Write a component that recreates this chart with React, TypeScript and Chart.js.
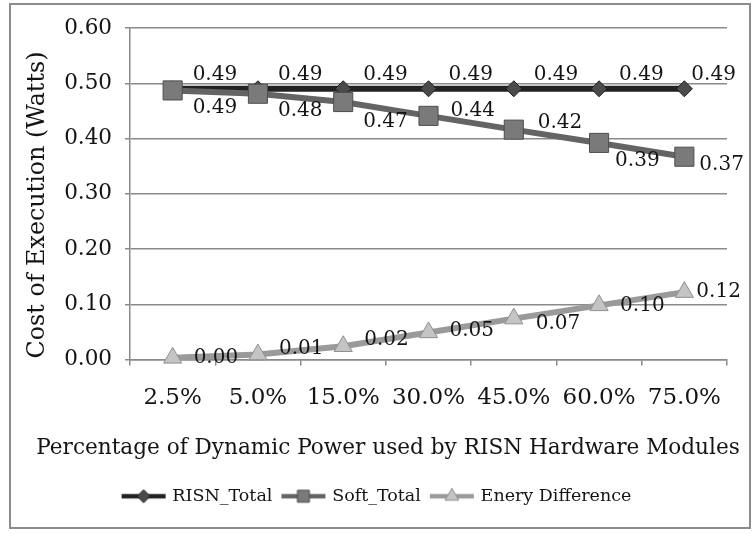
import React, { useEffect, useRef } from "react";
import { Chart, registerables } from "chart.js";
import { drawPoint } from "chart.js/helpers";
import type { ChartConfiguration, Plugin } from "chart.js";

Chart.register(...registerables);

const CATEGORIES = ["2.5%", "5.0%", "15.0%", "30.0%", "45.0%", "60.0%", "75.0%"];
const RISN_TOTAL = [0.49, 0.49, 0.49, 0.49, 0.49, 0.49, 0.49];
const SOFT_TOTAL = [0.487, 0.481, 0.466, 0.441, 0.416, 0.392, 0.367];
const ENERGY_DIFF = [0.003, 0.009, 0.024, 0.049, 0.074, 0.098, 0.122];
const SERIES_NAMES = ["RISN_Total", "Soft_Total", "Enery Difference"];
const X_TITLE = "Percentage of Dynamic Power used by RISN Hardware Modules";
const Y_TITLE = "Cost of Execution (Watts)";

const FONT = "'DejaVu Serif', 'Liberation Serif', serif";
const TEXT = "#141414";
const GRID = "#8a8a8a";

const SERIES_STYLE = [
    { line: "#222222", fill: "#4a4a4a", border: "#1e1e1e", marker: "rectRot", radius: 8, legendRadius: 6.5 },
    { line: "#646464", fill: "#7a7a7a", border: "#4e4e4e", marker: "rect", radius: 13.5, legendRadius: 8.5 },
    { line: "#9a9a9a", fill: "#c4c4c4", border: "#909090", marker: "triangle", radius: 10.5, legendRadius: 8 },
];

// value label nudges (dx, dy from the point), the way the spreadsheet placed them
const LABEL_DX = [
    [20, 20, 20, 20, 20, 20, 7],
    [20, 20, 20, 22, 24, 16, 15],
    [21, 21, 21, 21, 22, 21, 12],
];
const LABEL_DY = [
    [-14, -14, -14, -14, -14, -14, -14],
    [17, 17, 20, -5, -7, 18, 8],
    [0, -6, -6, -2, 5, 0, 0],
];

const legendImage = (index: number) => {
    const style = SERIES_STYLE[index];
    const canvas = document.createElement("canvas");
    canvas.width = 46;
    canvas.height = 18;
    const ctx = canvas.getContext("2d")!;
    ctx.strokeStyle = style.line;
    ctx.lineWidth = 4.5;
    ctx.beginPath();
    ctx.moveTo(1, 9);
    ctx.lineTo(45, 9);
    ctx.stroke();
    ctx.fillStyle = style.fill;
    ctx.strokeStyle = style.border;
    ctx.lineWidth = 1;
    drawPoint(ctx, { pointStyle: style.marker as any, radius: style.legendRadius, rotation: 0, borderWidth: 1 } as any, 23, 9);
    return canvas;
};

const valueLabels: Plugin = {
    id: "valueLabels",
    afterDatasetsDraw(chart) {
        const ctx = chart.ctx;
        ctx.save();
        ctx.fillStyle = TEXT;
        ctx.font = `20px ${FONT}`;
        ctx.textAlign = "left";
        ctx.textBaseline = "middle";
        chart.data.datasets.forEach((dataset, di) => {
            const meta = chart.getDatasetMeta(di);
            meta.data.forEach((point: any, i) => {
                const value = Number(dataset.data[i]);
                ctx.fillText(value.toFixed(2), point.x + LABEL_DX[di][i], point.y + LABEL_DY[di][i]);
            });
        });
        ctx.restore();
    },
};

// axis titles are centred on the whole frame, not on the plot, so draw them here
const axisTitles: Plugin = {
    id: "axisTitles",
    afterDraw(chart) {
        const ctx = chart.ctx;
        ctx.save();
        ctx.fillStyle = TEXT;
        ctx.textAlign = "center";
        ctx.textBaseline = "middle";
        ctx.font = `21.6px ${FONT}`;
        ctx.fillText(X_TITLE, 388, 448);
        ctx.translate(38, 205);
        ctx.rotate(-Math.PI / 2);
        ctx.font = `23.8px ${FONT}`;
        ctx.fillText(Y_TITLE, 0, 0);
        ctx.restore();
    },
};

export default function App() {
    const canvasRef = useRef<HTMLCanvasElement | null>(null);

    useEffect(() => {
        const canvas = canvasRef.current;
        if (!canvas) return;

        const images = SERIES_NAMES.map((_, i) => legendImage(i));
        const seriesData = [RISN_TOTAL, SOFT_TOTAL, ENERGY_DIFF];

        const config: ChartConfiguration = {
            type: "line",
            data: {
                labels: CATEGORIES,
                datasets: seriesData.map((values, i) => ({
                    label: SERIES_NAMES[i],
                    data: values,
                    borderColor: SERIES_STYLE[i].line,
                    borderWidth: 6,
                    backgroundColor: SERIES_STYLE[i].fill,
                    pointStyle: SERIES_STYLE[i].marker as any,
                    pointRadius: SERIES_STYLE[i].radius,
                    pointBackgroundColor: SERIES_STYLE[i].fill,
                    pointBorderColor: SERIES_STYLE[i].border,
                    pointBorderWidth: 1,
                    tension: 0,
                    clip: false,
                    order: 2 - i,
                })),
            },
            options: {
                responsive: false,
                animation: false,
                devicePixelRatio: 1,
                layout: { padding: { top: 28, right: 27, left: 28, bottom: 21 } },
                plugins: {
                    legend: {
                        display: true,
                        position: "bottom",
                        labels: {
                            usePointStyle: true,
                            pointStyleWidth: 40,
                            padding: 11,
                            color: TEXT,
                            font: { family: FONT, size: 17.5 },
                            generateLabels: (chart) =>
                                chart.data.datasets.map((ds, i) => ({
                                    text: String(ds.label),
                                    pointStyle: images[i],
                                    datasetIndex: i,
                                    hidden: false,
                                    fillStyle: SERIES_STYLE[i].fill,
                                    strokeStyle: SERIES_STYLE[i].line,
                                    lineWidth: 0,
                                    fontColor: TEXT,
                                })),
                        },
                    },
                    tooltip: { enabled: false },
                },
                scales: {
                    x: {
                        type: "category",
                        offset: true,
                        afterFit: (scale) => {
                            scale.height = 117;
                        },
                        grid: {
                            offset: true,
                            drawOnChartArea: false,
                            drawTicks: true,
                            tickLength: 6,
                            color: GRID,
                            lineWidth: 1.5,
                        },
                        border: { color: GRID, width: 1.5 },
                        ticks: {
                            color: TEXT,
                            padding: 19,
                            maxRotation: 0,
                            font: { family: FONT, size: 23 },
                        },
                    },
                    y: {
                        type: "linear",
                        min: 0,
                        max: 0.6,
                        afterFit: (scale) => {
                            scale.width = 102;
                        },
                        grid: {
                            color: GRID,
                            lineWidth: 1.5,
                            drawTicks: true,
                            tickLength: 5,
                        },
                        border: { color: GRID, width: 1.5 },
                        ticks: {
                            stepSize: 0.1,
                            color: TEXT,
                            padding: 13,
                            font: { family: FONT, size: 21.5 },
                            callback: (value) => Number(value).toFixed(2),
                        },
                    },
                },
            },
            plugins: [valueLabels, axisTitles],
        };

        const chart = new Chart(canvas, config);
        return () => {
            chart.destroy();
        };
    }, []);

    return (
        <div style={{ position: "absolute", left: 0, top: 0, width: 754, height: 536, background: "#ffffff" }}>
            <canvas ref={canvasRef} width={754} height={536} style={{ width: 754, height: 536, display: "block" }} />
            <div
                style={{
                    position: "absolute",
                    left: 9,
                    top: 3,
                    width: 738,
                    height: 522,
                    border: "2px solid #8c8c8c",
                    pointerEvents: "none",
                }}
            />
        </div>
    );
}
